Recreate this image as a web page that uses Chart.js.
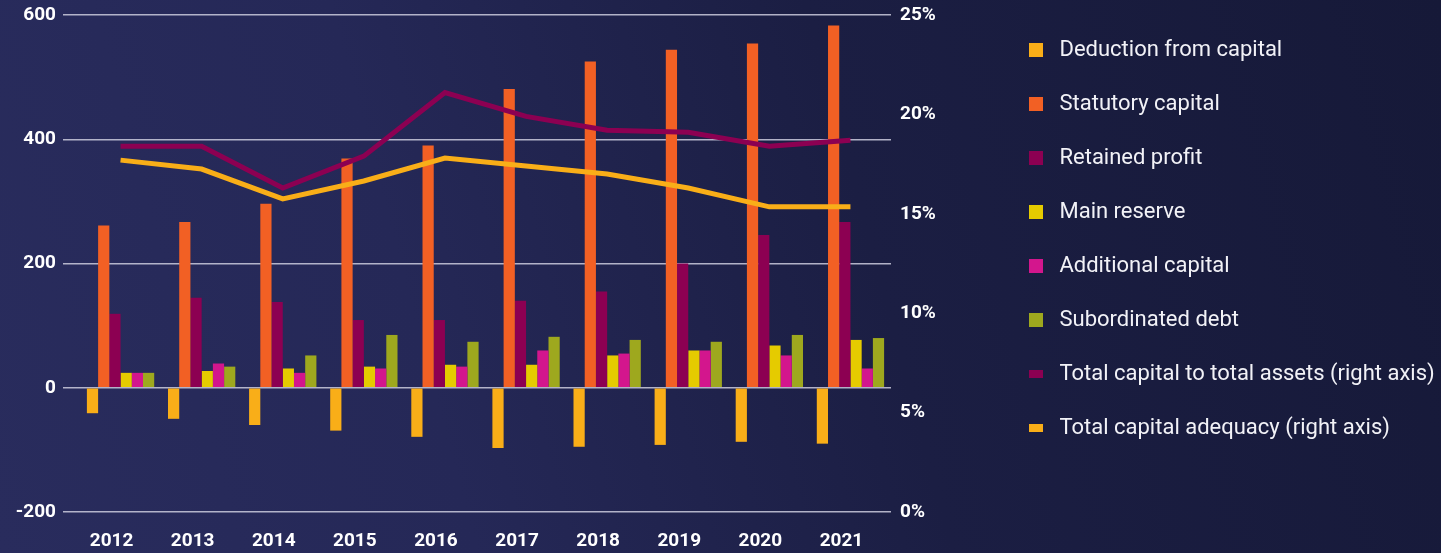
<!DOCTYPE html>
<html>
<head>
<meta charset="utf-8">
<script src="https://cdn.jsdelivr.net/npm/chart.js@4.4.1/dist/chart.umd.min.js"></script>
<style>
  html, body { margin: 0; padding: 0; }
  body {
    width: 1441px; height: 553px; overflow: hidden;
    background: linear-gradient(75deg, #292c5d 0%, #252857 30%, #1b1e43 60%, #161938 100%);
  }
  #wrap { position: relative; width: 1441px; height: 553px; }
</style>
</head>
<body>
<div id="wrap"><canvas id="c" width="1441" height="553"></canvas></div>
<script>
const years = ['2012','2013','2014','2015','2016','2017','2018','2019','2020','2021'];
const deduction     = [-41, -50, -60, -69, -79, -97, -95, -92, -87, -90];
const statutory     = [261, 267, 296, 369, 390, 481, 525, 544, 554, 583];
const retained      = [119, 145, 138, 109, 109, 140, 155, 200, 246, 267];
const mainReserve   = [24, 27, 31, 34, 37, 37, 52, 60, 68, 77];
const additional    = [24, 39, 24, 31, 34, 60, 55, 60, 52, 31];
const subordinated  = [24, 34, 52, 85, 74, 82, 77, 74, 85, 80];
const capToAssets   = [18.4, 18.4, 16.3, 17.9, 21.1, 19.9, 19.2, 19.1, 18.4, 18.7];
const capAdequacy   = [17.7, 17.25, 15.75, 16.65, 17.8, 17.4, 17.0, 16.3, 15.35, 15.35];
const leftTicks  = { min: -200, max: 600, step: 200 };
const rightTicks = { min: 0, max: 25, step: 5 };

const C = {
  deduction: '#f9ae18', statutory: '#f26024', retained: '#8c0052',
  main: '#e5cb00', additional: '#d3168d', sub: '#9ea81e'
};
const gridColor = 'rgba(205,205,222,0.85)';

function bar(label, data, color) {
  return { type: 'bar', label, data, backgroundColor: color, borderWidth: 0, yAxisID: 'y', order: 2,
           barPercentage: 1.0, categoryPercentage: 0.83 };
}
function line(label, data, color) {
  return { type: 'line', label, data, borderColor: color, backgroundColor: color, borderWidth: 5,
           pointRadius: 0, pointHoverRadius: 0, tension: 0, yAxisID: 'y1', order: 1, fill: false };
}

new Chart(document.getElementById('c'), {
  data: {
    labels: years,
    datasets: [
      bar('Deduction from capital', deduction, C.deduction),
      bar('Statutory capital', statutory, C.statutory),
      bar('Retained profit', retained, C.retained),
      bar('Main reserve', mainReserve, C.main),
      bar('Additional capital', additional, C.additional),
      bar('Subordinated debt', subordinated, C.sub),
      line('Total capital to total assets (right axis)', capToAssets, C.retained),
      line('Total capital adequacy (right axis)', capAdequacy, C.deduction)
    ]
  },
  options: {
    responsive: false,
    animation: false,
    devicePixelRatio: 1,
    layout: { padding: { top: 7, bottom: 1, left: 0, right: 0 } },
    plugins: {
      tooltip: { enabled: false },
      legend: {
        position: 'right',
        align: 'start',
        maxWidth: 444,
        labels: {
          color: '#f2f2f7',
          font: { family: 'Roboto', size: 22, weight: 'normal' },
          boxWidth: 14, boxHeight: 14,
          usePointStyle: true, pointStyleWidth: 14,
          padding: 32,
          sort: (a, b) => a.datasetIndex - b.datasetIndex,
          generateLabels: (chart) => {
            const items = Chart.defaults.plugins.legend.labels.generateLabels(chart);
            return items.map(it => {
              const ds = chart.data.datasets[it.datasetIndex];
              const isLine = ds.type === 'line';
              const col = isLine ? ds.borderColor : ds.backgroundColor;
              it.text = ' ' + it.text;
              it.pointStyle = isLine ? 'line' : 'rect';
              it.lineWidth = isLine ? 8 : 0;
              it.fillStyle = col;
              it.strokeStyle = col;
              it.lineCap = 'butt';
              return it;
            });
          }
        }
      }
    },
    scales: {
      x: {
        grid: { display: false, drawTicks: false },
        border: { display: false },
        ticks: {
          color: '#ffffff', padding: 18, labelOffset: -9,
          font: { family: 'Roboto', size: 19, weight: 'bold' }
        },
        afterFit: (s) => { s.height = 40; }
      },
      y: {
        position: 'left',
        min: leftTicks.min, max: leftTicks.max,
        ticks: {
          stepSize: leftTicks.step, color: '#ffffff', padding: 7,
          font: { family: 'Roboto', size: 19, weight: 'bold' }
        },
        grid: { color: gridColor, lineWidth: 1.5, tickLength: 17, drawTicks: true },
        border: { display: false },
        afterFit: (s) => { s.width = 80; s.paddingTop = 15; s.paddingBottom = 0; }
      },
      y1: {
        position: 'right',
        min: rightTicks.min, max: rightTicks.max,
        ticks: {
          stepSize: rightTicks.step, color: '#ffffff', padding: 9,
          callback: (v) => v + '%',
          font: { family: 'Roboto', size: 19, weight: 'bold' }
        },
        grid: { display: false, drawTicks: false },
        border: { display: false },
        afterFit: (s) => { s.width = 106; s.paddingTop = 15; s.paddingBottom = 0; }
      }
    }
  }
});
</script>
</body>
</html>
